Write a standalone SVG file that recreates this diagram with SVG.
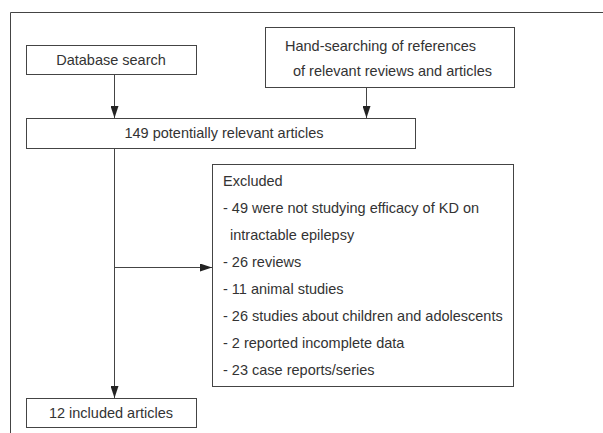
<svg xmlns="http://www.w3.org/2000/svg" width="603" height="433" viewBox="0 0 603 433">
<defs>
<marker id="ah" viewBox="0 0 12 8" refX="12" refY="4" markerWidth="12" markerHeight="8" markerUnits="userSpaceOnUse" orient="auto">
<path d="M0,0 L12,4 L0,8 Z" fill="#222"/>
</marker>
<style>
.box{fill:#fff;stroke:#444;stroke-width:1}
.t{font-family:"Liberation Sans",Arial,sans-serif;font-size:14.5px;fill:#333}
.c{text-anchor:middle}
.ln{stroke:#444;stroke-width:1;fill:none}
</style>
</defs>
<rect width="603" height="433" fill="#fff"/>
<path class="ln" d="M10.5,433 V12.5 H603"/>
<g id="db">
<rect class="box" x="26.5" y="45.5" width="170" height="29"/>
<text class="t c" x="111" y="65">Database search</text>
</g>
<g id="hand">
<rect class="box" x="265.5" y="27.5" width="249" height="60"/>
<text class="t" x="285" y="51">Hand-searching of references</text>
<text class="t" x="293" y="76">of relevant reviews and articles</text>
</g>
<g id="pot">
<rect class="box" x="26.5" y="118.5" width="389" height="30"/>
<text class="t c" x="224" y="138">149 potentially relevant articles</text>
</g>
<g id="excl">
<rect class="box" x="212.5" y="164.5" width="301" height="222"/>
<text class="t" x="223" y="186">Excluded</text>
<text class="t" x="223" y="213">- 49 were not studying efficacy of KD on</text>
<text class="t" x="230" y="240">intractable epilepsy</text>
<text class="t" x="223" y="267">- 26 reviews</text>
<text class="t" x="223" y="294">- 11 animal studies</text>
<text class="t" x="223" y="321">- 26 studies about children and adolescents</text>
<text class="t" x="223" y="348">- 2 reported incomplete data</text>
<text class="t" x="223" y="375">- 23 case reports/series</text>
</g>
<g id="incl">
<rect class="box" x="26.5" y="398.5" width="170" height="29"/>
<text class="t c" x="111" y="418">12 included articles</text>
</g>
<g id="connectors">
<line class="ln" x1="114.5" y1="75" x2="114.5" y2="118" marker-end="url(#ah)"/>
<line class="ln" x1="366.5" y1="88" x2="366.5" y2="118" marker-end="url(#ah)"/>
<line class="ln" x1="114.5" y1="149" x2="114.5" y2="398" marker-end="url(#ah)"/>
<line class="ln" x1="114.5" y1="267.5" x2="212" y2="267.5" marker-end="url(#ah)"/>
</g>
</svg>
